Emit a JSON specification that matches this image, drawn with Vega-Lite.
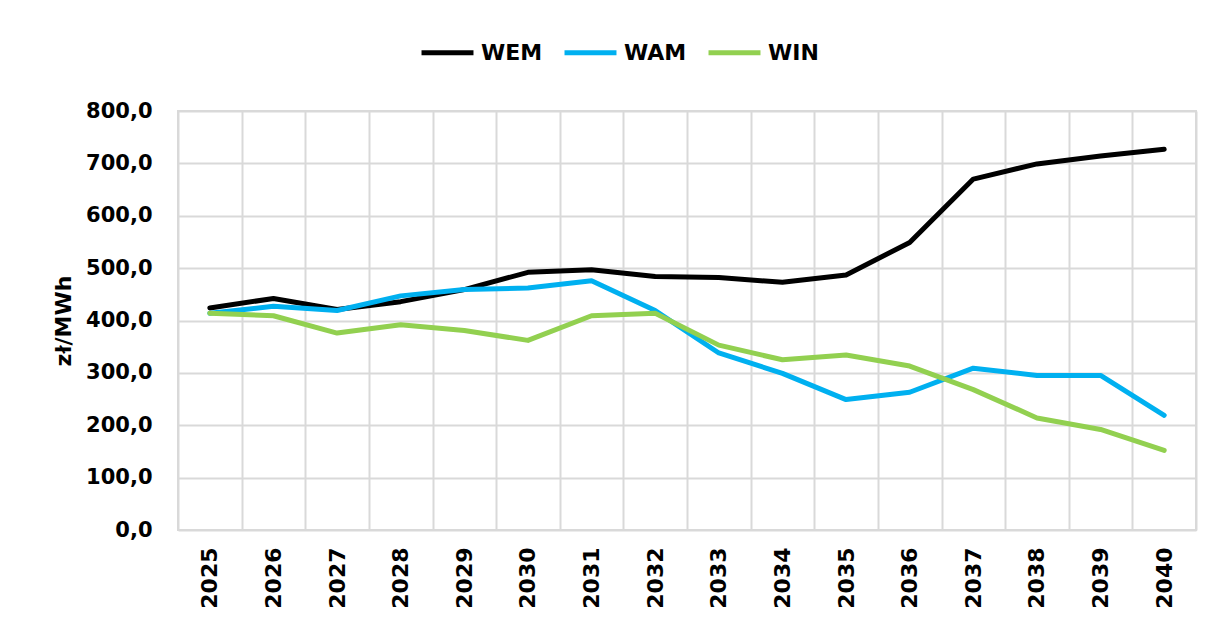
{
  "$schema": "https://vega.github.io/schema/vega-lite/v6.json",
  "width": 1018,
  "height": 419,
  "autosize": "none",
  "padding": {"left": 178, "top": 111, "right": 15, "bottom": 89},
  "background": "white",
  "config": {
    "view": {"stroke": "#d9d9d9", "strokeWidth": 2},
    "font": "DejaVu Sans"
  },
  "data": {
    "values": [
      {"year": "2025", "series": "WEM", "value": 424},
      {"year": "2026", "series": "WEM", "value": 442},
      {"year": "2027", "series": "WEM", "value": 421},
      {"year": "2028", "series": "WEM", "value": 436},
      {"year": "2029", "series": "WEM", "value": 459},
      {"year": "2030", "series": "WEM", "value": 492},
      {"year": "2031", "series": "WEM", "value": 497},
      {"year": "2032", "series": "WEM", "value": 484},
      {"year": "2033", "series": "WEM", "value": 482},
      {"year": "2034", "series": "WEM", "value": 473},
      {"year": "2035", "series": "WEM", "value": 487},
      {"year": "2036", "series": "WEM", "value": 549},
      {"year": "2037", "series": "WEM", "value": 670},
      {"year": "2038", "series": "WEM", "value": 699},
      {"year": "2039", "series": "WEM", "value": 714},
      {"year": "2040", "series": "WEM", "value": 727},
      {"year": "2025", "series": "WAM", "value": 414},
      {"year": "2026", "series": "WAM", "value": 427},
      {"year": "2027", "series": "WAM", "value": 419},
      {"year": "2028", "series": "WAM", "value": 447},
      {"year": "2029", "series": "WAM", "value": 459},
      {"year": "2030", "series": "WAM", "value": 462},
      {"year": "2031", "series": "WAM", "value": 476},
      {"year": "2032", "series": "WAM", "value": 419},
      {"year": "2033", "series": "WAM", "value": 338},
      {"year": "2034", "series": "WAM", "value": 299},
      {"year": "2035", "series": "WAM", "value": 249},
      {"year": "2036", "series": "WAM", "value": 263},
      {"year": "2037", "series": "WAM", "value": 309},
      {"year": "2038", "series": "WAM", "value": 295},
      {"year": "2039", "series": "WAM", "value": 295},
      {"year": "2040", "series": "WAM", "value": 219},
      {"year": "2025", "series": "WIN", "value": 414},
      {"year": "2026", "series": "WIN", "value": 409},
      {"year": "2027", "series": "WIN", "value": 376},
      {"year": "2028", "series": "WIN", "value": 392},
      {"year": "2029", "series": "WIN", "value": 381},
      {"year": "2030", "series": "WIN", "value": 362},
      {"year": "2031", "series": "WIN", "value": 409},
      {"year": "2032", "series": "WIN", "value": 414},
      {"year": "2033", "series": "WIN", "value": 353},
      {"year": "2034", "series": "WIN", "value": 325},
      {"year": "2035", "series": "WIN", "value": 334},
      {"year": "2036", "series": "WIN", "value": 313},
      {"year": "2037", "series": "WIN", "value": 268},
      {"year": "2038", "series": "WIN", "value": 214},
      {"year": "2039", "series": "WIN", "value": 192},
      {"year": "2040", "series": "WIN", "value": 152}
    ]
  },
  "mark": {"type": "line", "strokeWidth": 5, "strokeCap": "round", "strokeJoin": "round"},
  "encoding": {
    "x": {
      "field": "year",
      "type": "ordinal",
      "scale": {"type": "band", "paddingInner": 0, "paddingOuter": 0},
      "axis": {
        "title": null,
        "tickBand": "extent",
        "ticks": false,
        "domain": false,
        "grid": true,
        "gridColor": "#d9d9d9",
        "gridWidth": 2,
        "labelAngle": -90,
        "labelAlign": "right",
        "labelBaseline": "middle",
        "labelPadding": 17,
        "labelFont": "DejaVu Sans",
        "labelFontWeight": "bold",
        "labelFontSize": 22,
        "labelColor": "#000000"
      }
    },
    "y": {
      "field": "value",
      "type": "quantitative",
      "scale": {"domain": [0, 800], "nice": false},
      "axis": {
        "title": "zł/MWh",
        "titleFont": "DejaVu Sans",
        "titleFontWeight": "bold",
        "titleFontSize": 22,
        "titleColor": "#000000",
        "titlePadding": 10,
        "values": [0, 100, 200, 300, 400, 500, 600, 700, 800],
        "labelExpr": "replace(format(datum.value, '.1f'), '.', ',')",
        "ticks": false,
        "domain": false,
        "grid": true,
        "gridColor": "#d9d9d9",
        "gridWidth": 2,
        "labelPadding": 26,
        "labelFont": "DejaVu Sans",
        "labelFontWeight": "bold",
        "labelFontSize": 21,
        "labelColor": "#000000"
      }
    },
    "color": {
      "field": "series",
      "type": "nominal",
      "sort": ["WEM", "WAM", "WIN"],
      "scale": {"domain": ["WEM", "WAM", "WIN"], "range": ["#000000", "#00b0f0", "#92d050"]},
      "legend": {
        "title": null,
        "orient": "none",
        "direction": "horizontal",
        "legendX": 241,
        "legendY": -87,
        "symbolType": "stroke",
        "symbolSize": 2700,
        "symbolStrokeWidth": 5,
        "labelOffset": 5,
        "columnPadding": 11,
        "labelFont": "DejaVu Sans",
        "labelFontWeight": "bold",
        "labelFontSize": 22,
        "labelColor": "#000000",
        "padding": 0
      }
    }
  }
}
